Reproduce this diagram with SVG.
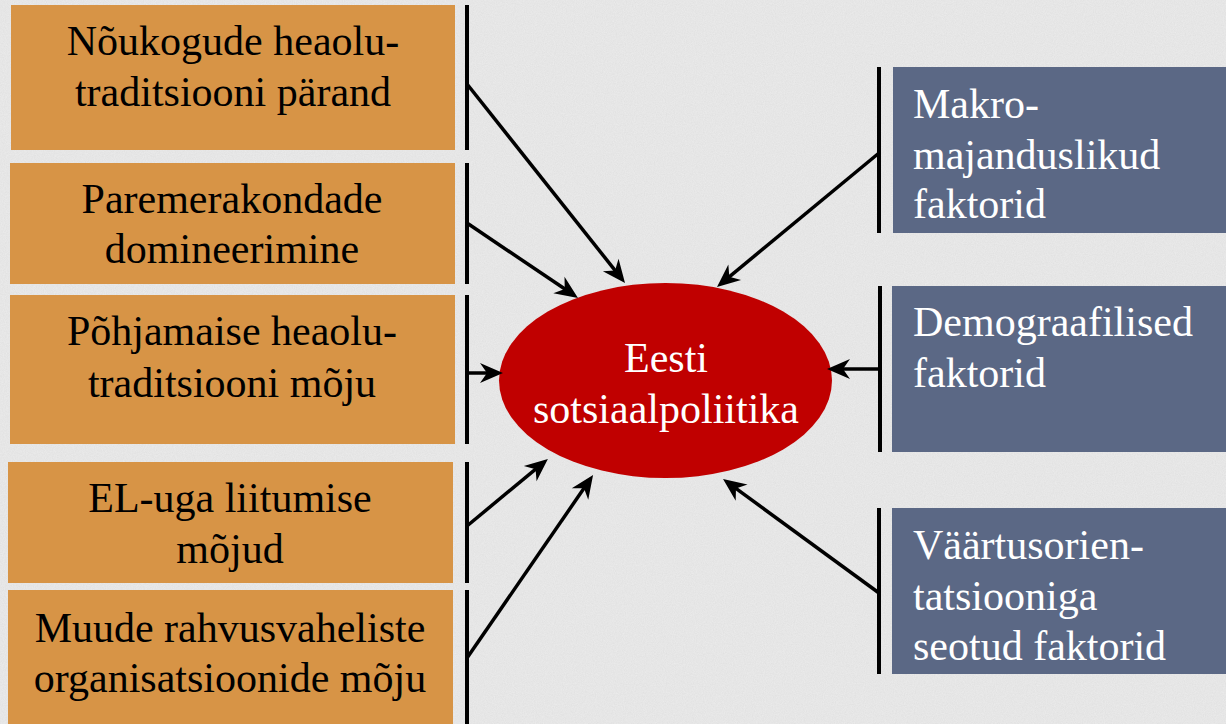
<svg xmlns="http://www.w3.org/2000/svg" width="1226" height="724" viewBox="0 0 1226 724">
<defs>
<filter id="paper" x="0" y="0" width="100%" height="100%">
<feTurbulence type="fractalNoise" baseFrequency="0.9" numOctaves="3" seed="4" result="n"/>
<feColorMatrix type="matrix" values="0 0 0 0 0.5  0 0 0 0 0.5  0 0 0 0 0.5  0 0 0 0.25 0" in="n" result="g"/>
<feComposite in="g" in2="SourceGraphic" operator="in"/>
</filter>
<marker id="ah" markerUnits="userSpaceOnUse" viewBox="-14 -12 28 24" refX="0" refY="0" markerWidth="28" markerHeight="24" orient="auto">
<path d="M10,0 L-13,-10 L-6,0 L-13,10 Z" fill="#000"/>
</marker>
</defs>
<style>
.lbox{fill:#D79446}
.rbox{fill:#5B6885}
.bar{stroke:#000;stroke-width:4;fill:none}
text{font-family:"Times New Roman","Liberation Serif","DejaVu Serif",serif;font-size:42px}
.dk{fill:#000;text-anchor:middle}
.wt{fill:#fff}
.conn line{stroke:#000;stroke-width:3.5;marker-end:url(#ah)}
</style>
<rect width="1226" height="724" fill="#ECECEC"/>
<rect width="1226" height="724" fill="#ECECEC" filter="url(#paper)"/>

<g>
<g id="n1"><rect class="lbox" x="11" y="5" width="444" height="145"/>
<text class="dk" x="233" y="55">Nõukogude heaolu-</text><text class="dk" x="233" y="106">traditsiooni pärand</text></g>
<g id="n2"><rect class="lbox" x="10" y="163" width="445" height="121"/>
<text class="dk" x="232" y="213">Paremerakondade</text><text class="dk" x="232" y="263">domineerimine</text></g>
<g id="n3"><rect class="lbox" x="10" y="295" width="445" height="149"/>
<text class="dk" x="232" y="345">Põhjamaise heaolu-</text><text class="dk" x="232" y="397">traditsiooni mõju</text></g>
<g id="n4"><rect class="lbox" x="8" y="462" width="445" height="121"/>
<text class="dk" x="230" y="512">EL-uga liitumise</text><text class="dk" x="230" y="563">mõjud</text></g>
<g id="n5"><rect class="lbox" x="8" y="590" width="445" height="134"/>
<text class="dk" x="230" y="642">Muude rahvusvaheliste</text><text class="dk" x="230" y="692">organisatsioonide mõju</text></g>

<g id="nA"><rect class="rbox" x="893" y="67" width="333" height="166"/>
<text class="wt" x="913" y="118">Makro-</text><text class="wt" x="913" y="169">majanduslikud</text><text class="wt" x="913" y="218">faktorid</text></g>
<g id="nB"><rect class="rbox" x="892" y="286" width="334" height="166"/>
<text class="wt" x="913" y="336">Demograafilised</text><text class="wt" x="913" y="387">faktorid</text></g>
<g id="nC"><rect class="rbox" x="892" y="508" width="334" height="166"/>
<text class="wt" x="913" y="559">Väärtusorien-</text><text class="wt" x="913" y="610">tatsiooniga</text><text class="wt" x="913" y="660">seotud faktorid</text></g>

<g id="center"><ellipse cx="665.5" cy="380.5" rx="166.5" ry="97.5" fill="#C00000"/>
<text class="wt" x="666" y="372" text-anchor="middle">Eesti</text><text class="wt" x="666" y="423" text-anchor="middle">sotsiaalpoliitika</text></g>
</g>

<g id="connectors">
<g class="bars">
<line class="bar" x1="467" y1="5" x2="467" y2="150"/>
<line class="bar" x1="467" y1="163" x2="467" y2="284"/>
<line class="bar" x1="467" y1="295" x2="467" y2="444"/>
<line class="bar" x1="467" y1="462" x2="467" y2="583"/>
<line class="bar" x1="467" y1="590" x2="467" y2="724"/>
<line class="bar" x1="879" y1="67" x2="879" y2="233"/>
<line class="bar" x1="880" y1="286" x2="880" y2="452"/>
<line class="bar" x1="879" y1="508" x2="879" y2="674"/>
</g>
<g class="conn">
<line x1="467" y1="84" x2="618.8" y2="275.1"/>
<line x1="467" y1="223" x2="569.7" y2="292.3"/>
<line x1="467" y1="373" x2="493" y2="373"/>
<line x1="467" y1="526" x2="540.2" y2="465.3"/>
<line x1="467" y1="658" x2="587.4" y2="483.3"/>
<line x1="879" y1="153" x2="724.7" y2="280.6"/>
<line x1="880" y1="369" x2="837" y2="369"/>
<line x1="879" y1="593" x2="731.1" y2="484.9"/>
</g>
</g>
</svg>
